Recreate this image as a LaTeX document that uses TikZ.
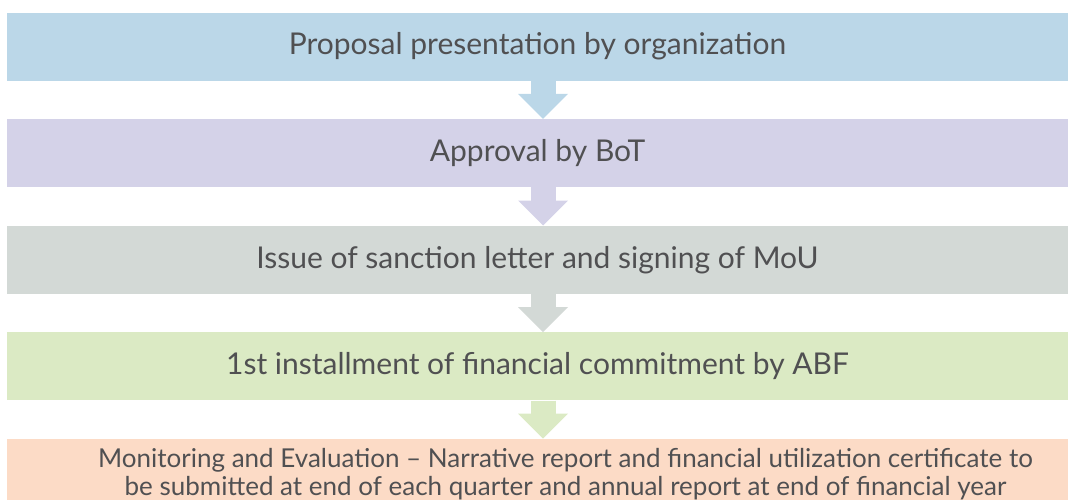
\documentclass[tikz,border=0pt]{standalone}
\usepackage{fontspec}
\setmainfont{Lato}
\usetikzlibrary{arrows.meta}

\definecolor{propblue}{RGB}{187,215,232}
\definecolor{apprlilac}{RGB}{212,210,232}
\definecolor{sanctgrey}{RGB}{211,217,214}
\definecolor{fundgreen}{RGB}{219,234,196}
\definecolor{monpeach}{RGB}{252,219,198}
\definecolor{textgrey}{RGB}{80,80,82}

\tikzset{
  stepbox/.style={fill=#1, minimum width=1061pt, minimum height=68pt, inner sep=0pt,
    text=textgrey, font=\fontsize{30}{36}\selectfont},
  flow/.style={draw=#1, line width=25pt,
    -{Triangle[width=50pt, length=25pt, line width=0pt]}},
}

\begin{document}
\begin{tikzpicture}[node distance=106.6pt, x=1pt, y=-1pt]
                        \useasboundingbox (0,0) rectangle (1068,499);
                        \clip (0,0) rectangle (1068,499);
                        \node (prop) [stepbox=propblue] at (537.5,46.5) {Proposal presentation by organization};
                        \node (appr) [stepbox=apprlilac, below of=prop] {Approval by BoT};
                        \node (sanct) [stepbox=sanctgrey, below of=appr] {Issue of sanction letter and signing of MoU};
                        \node (fund) [stepbox=fundgreen, below of=sanct] {1st installment of financial commitment by ABF};
                        \node (mne) [stepbox=monpeach, below of=fund] {};
                        \node (mnetext) [xshift=28pt, yshift=-1pt, text=textgrey, align=center, font=\fontsize{26}{28}\selectfont] at (mne) {Monitoring and Evaluation -- Narrative report and financial utilization certificate to\\be submitted at end of each quarter and annual report at end of financial year};
                        \draw[flow=propblue] ([xshift=5.5pt]prop.south) -- ([xshift=5.5pt]appr.north);
                        \draw[flow=apprlilac] ([xshift=5.5pt]appr.south) -- ([xshift=5.5pt]sanct.north);
                        \draw[flow=sanctgrey] ([xshift=5.5pt]sanct.south) -- ([xshift=5.5pt]fund.north);
                        \draw[flow=fundgreen] ([xshift=5.5pt]fund.south) -- ([xshift=5.5pt]mne.north);
                    \end{tikzpicture}
\end{document}
